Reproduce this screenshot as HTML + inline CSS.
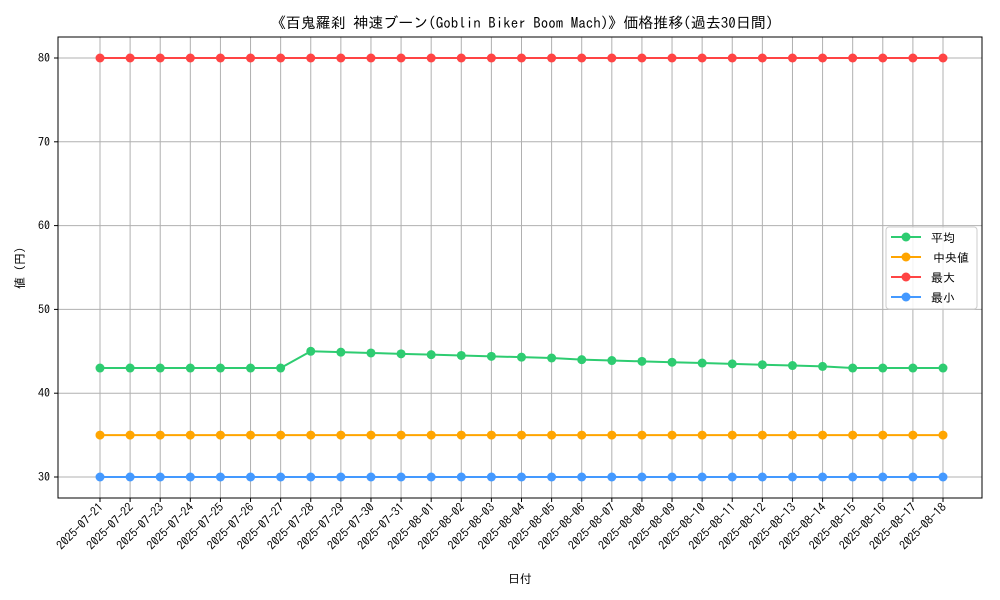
<!DOCTYPE html>
<html><head><meta charset="utf-8"><style>
body{margin:0;background:#fff;}
svg{display:block;font-family:"IPAGothic","Noto Sans CJK JP",monospace;}
</style></head><body>
<svg id="chart" width="1000" height="600"></svg>
<script>
const dates=["2025-07-21","2025-07-22","2025-07-23","2025-07-24","2025-07-25","2025-07-26","2025-07-27","2025-07-28","2025-07-29","2025-07-30","2025-07-31","2025-08-01","2025-08-02","2025-08-03","2025-08-04","2025-08-05","2025-08-06","2025-08-07","2025-08-08","2025-08-09","2025-08-10","2025-08-11","2025-08-12","2025-08-13","2025-08-14","2025-08-15","2025-08-16","2025-08-17","2025-08-18"];
const avgValues=[43,43,43,43,43,43,43,45.0,44.9,44.8,44.7,44.6,44.5,44.4,44.3,44.2,44.0,43.9,43.8,43.7,43.6,43.5,43.4,43.3,43.2,43.0,43.0,43.0,43.0];
const medianValues=dates.map(()=>35);
const maxValues=dates.map(()=>80);
const minValues=dates.map(()=>30);
const yTicks=[30,40,50,60,70,80];
const seriesNames=["平均","中央値","最大","最小"];
const seriesColors=["#2ecc71","#ffa500","#ff4444","#4499ff"];

const NS="http://www.w3.org/2000/svg";
const svg=document.getElementById('chart');
function mk(t,a,p){const e=document.createElementNS(NS,t);for(const k in a)e.setAttribute(k,a[k]);(p||svg).appendChild(e);return e;}
const L=58,R=982,T=37,B=498;
const x0=100,dx=(943-100)/(dates.length-1);
const xs=i=>x0+i*dx;
const ys=v=>477-(v-30)*(477-58)/50;

const grid=mk('g',{});


dates.forEach((d,i)=>{
  const l=mk('line',{x1:xs(i),x2:xs(i),y1:T,y2:B,stroke:'#b0b0b0','stroke-width':1},grid);
  
  
  const tk=mk('line',{x1:xs(i),x2:xs(i),y1:B,y2:B+4,stroke:'#000'});
  
  
  const t=mk('text',{x:xs(i)+4,y:B+10,'font-size':12,'text-anchor':'end',transform:`rotate(-45 ${xs(i)+4} ${B+10})`});
  t.textContent=d;
  
  
});
yTicks.forEach(v=>{
  const l=mk('line',{x1:L,x2:R,y1:ys(v),y2:ys(v),stroke:'#b0b0b0','stroke-width':1},grid);
  
  
  const tk=mk('line',{x1:L-4,x2:L,y1:ys(v),y2:ys(v),stroke:'#000'});
  
  
  const t=mk('text',{x:L-8,y:ys(v)+4,'font-size':12,'text-anchor':'end'});
  t.textContent=v;
  
  
});
const frame=mk('rect',{x:L,y:T,width:R-L,height:B-T,fill:'none',stroke:'#000','stroke-width':1});



const all=[avgValues,medianValues,maxValues,minValues];
all.forEach((vals,s)=>{
  const g=mk('g',{});
  
  
  const p=mk('polyline',{points:vals.map((v,i)=>xs(i)+','+ys(v)).join(' '),fill:'none',stroke:seriesColors[s],'stroke-width':2},g);
  
  
  vals.forEach((v,i)=>{
    const c=mk('circle',{cx:xs(i),cy:ys(v),r:4.5,fill:seriesColors[s]},g);
    
    
  });
});

const title=mk('text',{x:522,y:28,'font-size':15,'text-anchor':'middle'});
title.textContent="《百鬼羅刹 神速ブーン(Goblin Biker Boom Mach)》価格推移(過去30日間)";


const xl=mk('text',{x:520,y:583,'font-size':12,'text-anchor':'middle'});
xl.textContent="日付";


const yl=mk('text',{x:24,y:268,'font-size':12,'text-anchor':'middle',transform:'rotate(-90 24 268)'});
yl.textContent="値 (円)";



const lg=mk('g',{});


mk('rect',{x:886,y:227,width:91,height:82,fill:'#fff','fill-opacity':0.85,stroke:'#ccc',rx:3},lg);
seriesNames.forEach((n,i)=>{
  const y=237+i*20;
  const e=mk('g',{},lg);
  
  
  mk('line',{x1:891,x2:921,y1:y,y2:y,stroke:seriesColors[i],'stroke-width':2},e);
  mk('circle',{cx:906,cy:y,r:4.5,fill:seriesColors[i]},e);
  const t=mk('text',{x:i==1?933:931,y:y+5,'font-size':12},e);
  t.textContent=n;
});
</script>
</body></html>
